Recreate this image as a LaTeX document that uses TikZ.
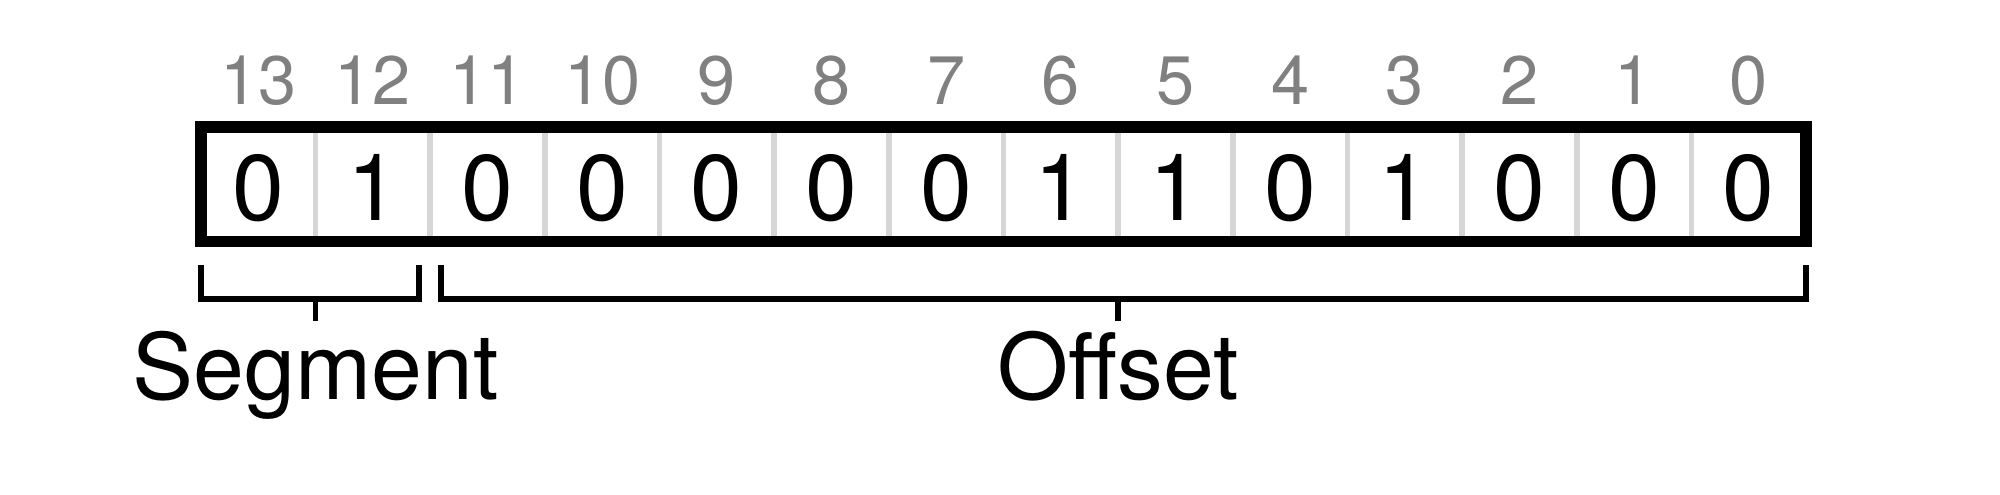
\documentclass[tikz,border=0pt]{standalone}
\usepackage{fontspec}
\setmainfont{TeX Gyre Heros}
\usepackage{xcolor}
\usepackage{tikz}
\definecolor{idxgray}{HTML}{808080}
\definecolor{divgray}{HTML}{D6D6D6}

\begin{document}
\begin{tikzpicture}%
        [x=0.01cm, y=-0.01cm,
        bit/.style={font=\fontsize{26.5}{30}\selectfont, anchor=base, inner sep=0pt},
        index/.style={font=\fontsize{19.5}{22}\selectfont, text=idxgray, anchor=base, inner sep=0pt},
        field/.style={font=\fontsize{26}{30}\selectfont, anchor=base, inner sep=0pt},
        divider/.style={color=divgray, line width=1.6pt},
        regline/.style={color=black, line width=3.4pt},
        brace/.style={color=black, line width=1.5pt, line cap=butt, line join=miter}]
    \useasboundingbox (0,0) rectangle (2000,495);
    %% Bit indices and bit values
    \foreach \b/\v in {13/0,12/1,11/0,10/0,9/0,8/0,7/0,6/1,5/1,4/0,3/1,2/0,1/0,0/0} {
        \node[index] (i\b) at ({201+114.64*(13.5-\b)},105) {\b};
        \node[bit] (b\b) at ({201+114.64*(13.5-\b)},221) {\v};
    }
    %% Cell dividers
    \foreach \k in {1,...,13}
        \draw[divider] ({201+114.64*\k},128) -- ({201+114.64*\k},240);
    %% Register outline
    \draw[regline] (201,127) rectangle (1806,241.5);
    %%
    %% Field brackets
    %%
    \coordinate (segL) at (201,265);
    \coordinate (segR) at (419,265);
    \coordinate (segM) at (315.6,299);
    \coordinate (offL) at (441,265);
    \coordinate (offR) at (1806,265);
    \coordinate (offM) at (1118,299);
    \draw[brace] (segL) |- (segR |- segM) -- (segR);
    \draw[brace] (segM) -- ++(0,22);
    \draw[brace] (offL) |- (offR |- offM) -- (offR);
    \draw[brace] (offM) -- ++(0,22);
    %% Field names
    \node[field] (seg) at (315.6,400) {Segment};
    \node[field] (off) at (1118,400) {Offset};
\end{tikzpicture}
\end{document}
